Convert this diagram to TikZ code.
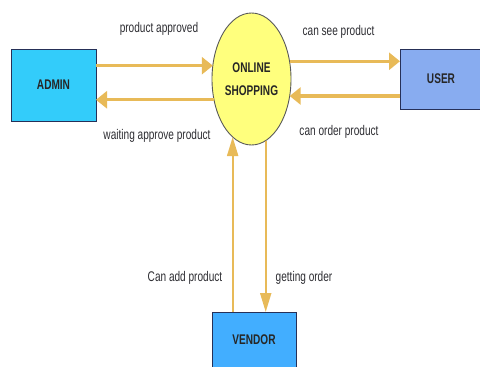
\documentclass[tikz,border=0pt]{standalone}
\usepackage{fontspec}
\setmainfont{Liberation Sans}[FakeStretch=0.72]
\usetikzlibrary{arrows.meta,shapes.geometric}

\definecolor{admincol}{RGB}{51,204,250}
\definecolor{usercol}{RGB}{136,172,240}
\definecolor{vendorcol}{RGB}{66,174,255}
\definecolor{shopcol}{RGB}{255,255,125}
\definecolor{flowcol}{RGB}{232,186,88}
\definecolor{edgecol}{RGB}{38,48,88}
\definecolor{labelcol}{RGB}{45,45,50}

\begin{document}
\begin{tikzpicture}[x=1pt,y=-1pt,
  entity/.style={draw=edgecol, line width=0.9pt, rectangle, inner sep=0pt, outer sep=0pt,
    font=\bfseries\fontsize{14}{16}\selectfont, text=black!85},
  process/.style={draw=black!65, line width=0.9pt, ellipse, fill=shopcol, inner sep=0pt, outer sep=0pt,
    minimum width=79pt, minimum height=132pt, align=center,
    font=\bfseries\fontsize{14}{23}\selectfont, text=black!85},
  hflow/.style={draw=flowcol, line width=3.2pt, -{Triangle[length=11pt,width=17pt]}},
  vflow/.style={draw=flowcol, line width=2pt, -{Triangle[length=19pt,width=11pt]}},
  flowlabel/.style={anchor=base, inner sep=0pt, text=labelcol, font=\fontsize{14}{16}\selectfont}
]
\useasboundingbox (0,0) rectangle (480,367);

% entities and the central process
\node[entity, fill=admincol, minimum width=85pt, minimum height=72pt] (admin) at (53.5,85) {ADMIN};
\node[entity, fill=usercol, minimum width=82pt, minimum height=60pt] (user) at (441,79) {USER};
\node[entity, fill=vendorcol, minimum width=84pt, minimum height=56pt] (vendor) at (254,340) {VENDOR};
\node[process] (shop) at (251.5,79) {ONLINE\\SHOPPING};

% data flows
\draw[hflow] (admin.east |- shop.161.4) -- (shop.161.4);
\draw[hflow] (shop.209.3) -- (admin.east |- shop.209.3);
\draw[hflow] (shop.25.3) -- (user.west |- shop.25.3);
\draw[hflow] (user.west |- shop.-24) -- (shop.-24);
\draw[vflow] (vendor.north -| shop.-108.8) -- (shop.-108.8);
\draw[vflow] (shop.-77.7) -- (vendor.north -| shop.-77.7);

% flow labels
\node[flowlabel] (l1) at (159,32) {product approved};
\node[flowlabel] (l2) at (157,139) {waiting approve product};
\node[flowlabel] (l3) at (338.5,35) {can see product};
\node[flowlabel] (l4) at (339,135) {can order product};
\node[flowlabel] (l5) at (185,281) {Can add product};
\node[flowlabel] (l6) at (304,281) {getting order};
\end{tikzpicture}
\end{document}
